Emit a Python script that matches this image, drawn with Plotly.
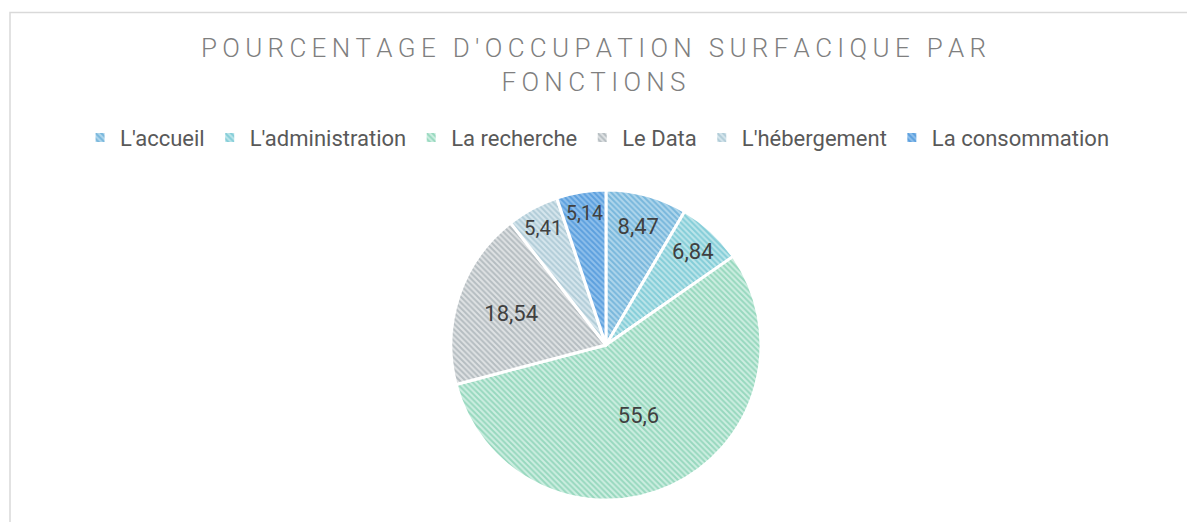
import plotly.graph_objects as go

# Surface share per function (percent)
fonctions = ["L'accueil", "L'administration", "La recherche", "Le Data",
             "L'hébergement", "La consommation"]
pourcentages = [8.47, 6.84, 55.6, 18.54, 5.41, 5.14]

titre = "POURCENTAGE D'OCCUPATION SURFACIQUE PAR<br>FONCTIONS"

# hatch colours: stripe colour and background colour per slice
stripe_colors = ["#3f97cb", "#4bb5c6", "#62c29c", "#8c979d", "#8bb2c2", "#2a7fcf"]
back_colors = ["#b0d6ec", "#bce5ea", "#cdeee1", "#dfe2e4", "#d6e6ed", "#8fc0ec"]


def spaced(text):
    # widen the tracking of the title with thin spaces between letters
    out = []
    for line in text.split("<br>"):
        out.append("\u2009".join(line))
    return "<br>".join(out)


fig = go.Figure(
    go.Pie(
        labels=fonctions,
        values=pourcentages,
        sort=False,
        direction="clockwise",
        rotation=0,
        texttemplate="%{value:.2~f}",
        textposition="inside",
        insidetextorientation="horizontal",
        textfont=dict(family="Roboto", size=22, color="#404040"),
        marker=dict(
            colors=back_colors,
            line=dict(color="white", width=3),
            pattern=dict(shape="\\", fgcolor=stripe_colors, bgcolor=back_colors,
                         size=4, solidity=0.5, fillmode="overlay"),
        ),
        domain=dict(x=[0.1, 0.921], y=[0.042, 0.636]),
        hoverinfo="label+value",
    )
)

fig.update_layout(
    width=1187,
    height=522,
    margin=dict(l=0, r=0, t=0, b=0),
    paper_bgcolor="white",
    plot_bgcolor="white",
    separators=", ",
    title=dict(
        text=spaced(titre),
        x=0.5,
        xanchor="center",
        y=0.89,
        yanchor="top",
        font=dict(family="Roboto", size=26, color="#7f7f7f", weight=300),
    ),
    legend=dict(
        orientation="h",
        x=0.503,
        xanchor="center",
        y=0.736,
        yanchor="middle",
        font=dict(family="Roboto", size=22, color="#595959"),
        itemwidth=30,
        traceorder="normal",
    ),
    shapes=[
        dict(type="rect", xref="paper", yref="paper",
             x0=10 / 1187, x1=1.02, y0=-0.02, y1=1 - 12.5 / 522,
             line=dict(color="#d9d9d9", width=1.5), fillcolor="rgba(0,0,0,0)",
             layer="below"),
    ],
)

fig.write_html("out.html")
